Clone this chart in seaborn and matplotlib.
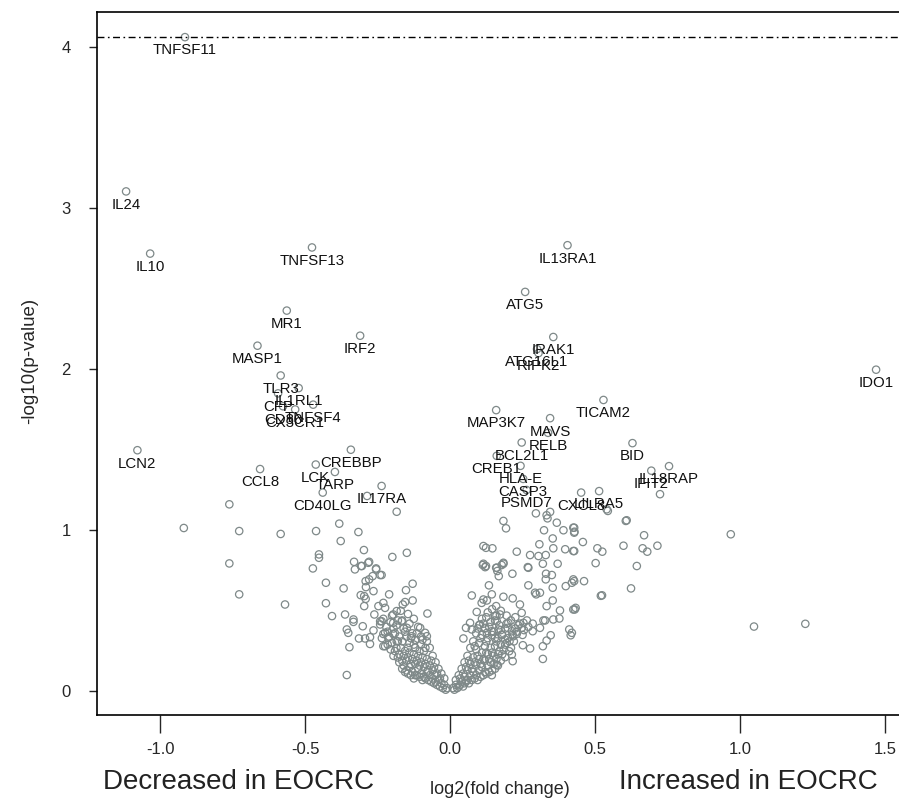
import matplotlib
matplotlib.use("Agg")
import matplotlib.pyplot as plt
import seaborn as sns
import pandas as pd

# labelled genes (log2 fold change, -log10 p)
genes = ["TNFSF11", "IL24", "IL10", "TNFSF13", "IL13RA1", "ATG5", "IRAK1", "ATG16L1",
         "RIPK2", "MR1", "IRF2", "MASP1", "TLR3", "IDO1", "IL1RL1", "CFP", "CD80",
         "CX3CR1", "TNFSF4", "CREBBP", "CCL8", "LCK", "TARP", "CD40LG", "IL17RA",
         "LCN2", "MAP3K7", "TICAM2", "MAVS", "RELB", "BCL2L1", "CREB1", "HLA-E",
         "CASP3", "PSMD7", "CXCL8", "LILRA5", "BID", "IL18RAP", "IFIT2"]
gene_fc = [-0.914, -1.117, -1.034, -0.476, 0.405, 0.259, 0.356, 0.300,
           0.305, -0.563, -0.310, -0.664, -0.584, 1.469, -0.522, -0.593, -0.576,
           -0.534, -0.472, -0.342, -0.655, -0.463, -0.397, -0.439, -0.236,
           -1.078, 0.159, 0.529, 0.345, 0.338, 0.247, 0.161, 0.243,
           0.252, 0.264, 0.452, 0.514, 0.629, 0.755, 0.694]
gene_p = [4.062, 3.104, 2.718, 2.756, 2.770, 2.480, 2.200, 2.125,
          2.100, 2.364, 2.208, 2.146, 1.961, 1.997, 1.883, 1.850, 1.770,
          1.750, 1.780, 1.500, 1.380, 1.408, 1.362, 1.234, 1.275,
          1.497, 1.746, 1.809, 1.696, 1.605, 1.545, 1.462, 1.400,
          1.319, 1.250, 1.234, 1.243, 1.541, 1.398, 1.370]

threshold = 4.06

# unlabelled genes, left arm of the volcano
left_core = [(-0.01, 0.02), (-0.02, 0.04), (-0.03, 0.05), (-0.02, 0.08), (-0.04, 0.07),
             (-0.05, 0.06), (-0.03, 0.11), (-0.05, 0.10), (-0.06, 0.08), (-0.07, 0.10),
             (-0.04, 0.14), (-0.06, 0.13), (-0.08, 0.12), (-0.09, 0.09), (-0.10, 0.11),
             (-0.05, 0.18), (-0.07, 0.16), (-0.09, 0.15), (-0.11, 0.14), (-0.12, 0.10),
             (-0.13, 0.12), (-0.06, 0.22), (-0.08, 0.20), (-0.10, 0.18), (-0.12, 0.17),
             (-0.14, 0.15), (-0.15, 0.13), (-0.07, 0.27), (-0.09, 0.25), (-0.11, 0.22),
             (-0.13, 0.20), (-0.15, 0.19), (-0.16, 0.16), (-0.08, 0.31), (-0.10, 0.29),
             (-0.12, 0.27), (-0.14, 0.24), (-0.16, 0.22), (-0.18, 0.21), (-0.10, 0.34),
             (-0.12, 0.32), (-0.14, 0.30), (-0.17, 0.27), (-0.19, 0.25), (-0.13, 0.36),
             (-0.15, 0.34), (-0.18, 0.31), (-0.20, 0.30), (-0.16, 0.39), (-0.19, 0.36),
             (-0.21, 0.34), (-0.11, 0.40), (-0.14, 0.42), (-0.18, 0.44), (-0.22, 0.40),
             (-0.20, 0.47), (-0.23, 0.45), (-0.17, 0.50)]
left_fill = [(-0.015, 0.01), (-0.025, 0.02), (-0.035, 0.03), (-0.045, 0.04), (-0.055, 0.05),
             (-0.065, 0.06), (-0.075, 0.07), (-0.085, 0.08), (-0.095, 0.07), (-0.105, 0.09),
             (-0.115, 0.10), (-0.125, 0.08), (-0.135, 0.10), (-0.145, 0.11), (-0.155, 0.12),
             (-0.165, 0.14), (-0.035, 0.08), (-0.045, 0.11), (-0.055, 0.15), (-0.065, 0.19),
             (-0.075, 0.13), (-0.085, 0.17), (-0.095, 0.21), (-0.105, 0.16), (-0.115, 0.19),
             (-0.125, 0.23), (-0.135, 0.17), (-0.145, 0.21), (-0.155, 0.25), (-0.165, 0.19),
             (-0.175, 0.23), (-0.185, 0.27), (-0.085, 0.27), (-0.105, 0.25), (-0.125, 0.29),
             (-0.145, 0.27), (-0.165, 0.31), (-0.175, 0.18), (-0.195, 0.22), (-0.205, 0.26),
             (-0.215, 0.29), (-0.095, 0.32), (-0.115, 0.36), (-0.135, 0.33), (-0.155, 0.37),
             (-0.175, 0.34), (-0.195, 0.39), (-0.215, 0.37), (-0.235, 0.33), (-0.125, 0.45),
             (-0.145, 0.48), (-0.165, 0.44), (-0.185, 0.41), (-0.205, 0.43)]
left_mid = [(-0.236, 0.722), (-0.152, 0.628), (-0.129, 0.668), (-0.210, 0.602), (-0.230, 0.549),
            (-0.224, 0.518), (-0.155, 0.554), (-0.163, 0.539), (-0.129, 0.564), (-0.078, 0.483),
            (-0.184, 0.498), (-0.196, 0.477), (-0.236, 0.435), (-0.196, 0.425), (-0.167, 0.435),
            (-0.224, 0.363), (-0.196, 0.356), (-0.213, 0.332), (-0.184, 0.311), (-0.224, 0.280),
            (-0.149, 0.394), (-0.132, 0.342), (-0.103, 0.394), (-0.086, 0.363), (-0.080, 0.342),
            (-0.428, 0.674), (-0.367, 0.639), (-0.428, 0.547), (-0.407, 0.467), (-0.362, 0.477),
            (-0.333, 0.446), (-0.333, 0.431), (-0.301, 0.404), (-0.356, 0.384), (-0.351, 0.363),
            (-0.264, 0.378), (-0.314, 0.328), (-0.293, 0.328), (-0.276, 0.336), (-0.276, 0.294),
            (-0.347, 0.274), (-0.356, 0.101), (-0.296, 0.591), (-0.296, 0.529), (-0.247, 0.529),
            (-0.261, 0.477), (-0.241, 0.435), (-0.241, 0.415), (-0.230, 0.356), (-0.230, 0.280),
            (-0.291, 0.684), (-0.279, 0.695), (-0.267, 0.715), (-0.255, 0.757), (-0.241, 0.722),
            (-0.328, 0.757), (-0.307, 0.778), (-0.282, 0.798), (-0.290, 0.647), (-0.264, 0.622),
            (-0.308, 0.597), (-0.291, 0.574), (-0.727, 0.602), (-0.569, 0.539)]
left_high = [(-0.761, 1.161), (-0.918, 1.014), (-0.727, 0.995), (-0.584, 0.977), (-0.462, 0.995),
             (-0.382, 1.041), (-0.316, 0.989), (-0.377, 0.933), (-0.297, 0.877), (-0.452, 0.850),
             (-0.452, 0.829), (-0.761, 0.794), (-0.473, 0.763), (-0.331, 0.804), (-0.304, 0.778),
             (-0.279, 0.804), (-0.255, 0.763), (-0.184, 1.115), (-0.149, 0.860), (-0.199, 0.834),
             (-0.286, 1.213)]

# unlabelled genes, right arm of the volcano
right_core = [(0.01, 0.02), (0.02, 0.04), (0.03, 0.03), (0.02, 0.07), (0.04, 0.06),
              (0.05, 0.05), (0.03, 0.10), (0.05, 0.09), (0.06, 0.07), (0.07, 0.10),
              (0.04, 0.14), (0.06, 0.13), (0.08, 0.12), (0.09, 0.10), (0.10, 0.13),
              (0.05, 0.18), (0.07, 0.17), (0.09, 0.16), (0.11, 0.15), (0.12, 0.12),
              (0.13, 0.16), (0.06, 0.22), (0.08, 0.21), (0.10, 0.20), (0.12, 0.19),
              (0.14, 0.18), (0.15, 0.17), (0.07, 0.27), (0.09, 0.26), (0.11, 0.24),
              (0.13, 0.23), (0.15, 0.22), (0.16, 0.20), (0.08, 0.31), (0.10, 0.30),
              (0.12, 0.28), (0.14, 0.27), (0.17, 0.25), (0.18, 0.23), (0.09, 0.36),
              (0.11, 0.35), (0.13, 0.33), (0.16, 0.31), (0.19, 0.29), (0.21, 0.27),
              (0.10, 0.41), (0.12, 0.39), (0.15, 0.37), (0.18, 0.35), (0.20, 0.33),
              (0.22, 0.31), (0.11, 0.45), (0.14, 0.43), (0.17, 0.41), (0.19, 0.39),
              (0.23, 0.37), (0.25, 0.35), (0.13, 0.49), (0.16, 0.47), (0.21, 0.44),
              (0.24, 0.42), (0.27, 0.40)]
right_fill = [(0.015, 0.01), (0.025, 0.02), (0.035, 0.04), (0.045, 0.03), (0.055, 0.06),
              (0.065, 0.05), (0.075, 0.07), (0.085, 0.08), (0.095, 0.07), (0.105, 0.09),
              (0.115, 0.10), (0.125, 0.11), (0.135, 0.12), (0.145, 0.13), (0.155, 0.14),
              (0.165, 0.16), (0.175, 0.19), (0.035, 0.08), (0.045, 0.11), (0.055, 0.15),
              (0.065, 0.19), (0.075, 0.14), (0.085, 0.18), (0.095, 0.22), (0.105, 0.17),
              (0.115, 0.20), (0.125, 0.24), (0.135, 0.20), (0.145, 0.24), (0.155, 0.28),
              (0.165, 0.23), (0.185, 0.26), (0.195, 0.30), (0.085, 0.28), (0.105, 0.33),
              (0.125, 0.31), (0.145, 0.35), (0.165, 0.33), (0.175, 0.29), (0.205, 0.31),
              (0.215, 0.35), (0.225, 0.39), (0.095, 0.39), (0.115, 0.42), (0.135, 0.40),
              (0.155, 0.44), (0.175, 0.38), (0.195, 0.42), (0.235, 0.41), (0.255, 0.38),
              (0.125, 0.46), (0.145, 0.51), (0.175, 0.50), (0.195, 0.47), (0.225, 0.46),
              (0.265, 0.44), (0.285, 0.42)]
right_mid = [(0.113, 0.784), (0.121, 0.771), (0.159, 0.767), (0.163, 0.747), (0.184, 0.792),
             (0.178, 0.784), (0.270, 0.767), (0.371, 0.792), (0.215, 0.730), (0.168, 0.715),
             (0.331, 0.730), (0.351, 0.722), (0.330, 0.695), (0.354, 0.643), (0.425, 0.695),
             (0.420, 0.674), (0.399, 0.653), (0.270, 0.658), (0.293, 0.612), (0.297, 0.602),
             (0.310, 0.612), (0.134, 0.658), (0.144, 0.602), (0.075, 0.595), (0.115, 0.570),
             (0.109, 0.549), (0.127, 0.564), (0.184, 0.587), (0.216, 0.577), (0.241, 0.539),
             (0.247, 0.487), (0.159, 0.529), (0.092, 0.493), (0.155, 0.467), (0.172, 0.477),
             (0.333, 0.529), (0.354, 0.564), (0.379, 0.502), (0.356, 0.446), (0.377, 0.452),
             (0.425, 0.508), (0.433, 0.518), (0.322, 0.440), (0.328, 0.440), (0.411, 0.384),
             (0.416, 0.348), (0.310, 0.394), (0.285, 0.373), (0.347, 0.348), (0.333, 0.315),
             (0.320, 0.280), (0.320, 0.201), (0.253, 0.425), (0.247, 0.394), (0.230, 0.356),
             (0.251, 0.286), (0.276, 0.266), (0.201, 0.425), (0.199, 0.394), (0.213, 0.373),
             (0.218, 0.342), (0.204, 0.249), (0.190, 0.212), (0.216, 0.187), (0.213, 0.228),
             (0.069, 0.425), (0.075, 0.384), (0.055, 0.394), (0.046, 0.328), (0.161, 0.435),
             (0.144, 0.373), (0.167, 0.384), (0.178, 0.353), (0.155, 0.332), (0.190, 0.322),
             (0.103, 0.415), (0.121, 0.394), (0.127, 0.363), (0.161, 0.166), (0.144, 0.100)]
right_high = [(0.184, 1.058), (0.193, 1.012), (0.296, 1.105), (0.333, 1.093), (0.345, 1.114),
              (0.336, 1.074), (0.368, 1.047), (0.391, 1.000), (0.425, 1.016), (0.429, 0.991),
              (0.324, 1.000), (0.354, 0.949), (0.308, 0.913), (0.356, 0.888), (0.397, 0.882),
              (0.425, 0.871), (0.230, 0.867), (0.276, 0.846), (0.305, 0.840), (0.330, 0.846),
              (0.268, 0.771), (0.320, 0.792), (0.115, 0.902), (0.124, 0.891), (0.146, 0.888),
              (0.115, 0.792), (0.124, 0.778), (0.161, 0.767), (0.184, 0.798), (0.606, 1.058),
              (0.540, 1.130), (0.724, 1.224), (0.544, 1.120), (0.609, 1.062), (0.968, 0.975),
              (0.669, 0.969), (0.715, 0.904), (0.598, 0.904), (0.664, 0.888), (0.680, 0.867),
              (0.508, 0.888), (0.525, 0.867), (0.458, 0.927), (0.428, 1.016), (0.428, 0.985),
              (0.428, 0.871), (0.502, 0.796), (0.644, 0.778), (0.462, 0.684), (0.428, 0.684),
              (0.520, 0.593), (0.524, 0.596), (0.624, 0.639), (0.430, 0.508), (0.420, 0.363),
              (1.048, 0.402), (1.225, 0.419)]

others = (left_core + left_fill + left_mid + left_high
          + right_core + right_fill + right_mid + right_high)
df = pd.DataFrame(others, columns=["log2fc", "nlog10p"])
lab = pd.DataFrame({"gene": genes, "log2fc": gene_fc, "nlog10p": gene_p})
df_all = pd.concat([df, lab[["log2fc", "nlog10p"]]], ignore_index=True)

sns.set_style("white")
plt.rcParams["font.family"] = ["Liberation Sans", "DejaVu Sans"]

fig = plt.figure(figsize=(8.99, 8.01), dpi=100)
ax = fig.add_axes([0.108, 0.107, 0.892, 0.878])

sns.scatterplot(data=df_all, x="log2fc", y="nlog10p", ax=ax, marker="o", s=28,
                facecolor="none", edgecolor="#7f8989", linewidth=0.9, legend=False)

for _, r in lab.iterrows():
    ax.annotate(r["gene"], (r["log2fc"], r["nlog10p"]), xytext=(0, -9.6),
                textcoords="offset points", ha="center", va="center",
                fontsize=10.8, color="#111111")

ax.axhline(threshold, color="black", lw=1.0, ls=(0, (5, 2.5, 1.2, 2.5)))

ax.set_xlim(-1.217, 1.548)
ax.set_ylim(-0.149, 4.218)
ax.set_xticks([-1.0, -0.5, 0.0, 0.5, 1.0, 1.5])
ax.set_xticklabels(["-1.0", "-0.5", "0.0", "0.5", "1.0", "1.5"])
ax.set_yticks([0, 1, 2, 3, 4])
ax.tick_params(axis="x", direction="out", length=13, width=1, pad=6, labelsize=12, bottom=True)
ax.tick_params(axis="y", direction="out", length=6, width=1, pad=13, labelsize=12, left=True)
ax.set_xlabel("")
ax.set_ylabel("")
for side in ["left", "top", "bottom"]:
    ax.spines[side].set_color("black")
    ax.spines[side].set_linewidth(1.2)
ax.spines["right"].set_visible(False)

fig.text(0.033, 0.55, "-log10(p-value)", rotation=90, ha="center", va="center", fontsize=13.5)
fig.text(0.556, 0.014, "log2(fold change)", ha="center", va="center", fontsize=13)
fig.text(0.265, 0.024, "Decreased in EOCRC", ha="center", va="center", fontsize=20, color="#222222")
fig.text(0.832, 0.024, "Increased in EOCRC", ha="center", va="center", fontsize=20, color="#222222")

fig.savefig("out.png", dpi=100)
